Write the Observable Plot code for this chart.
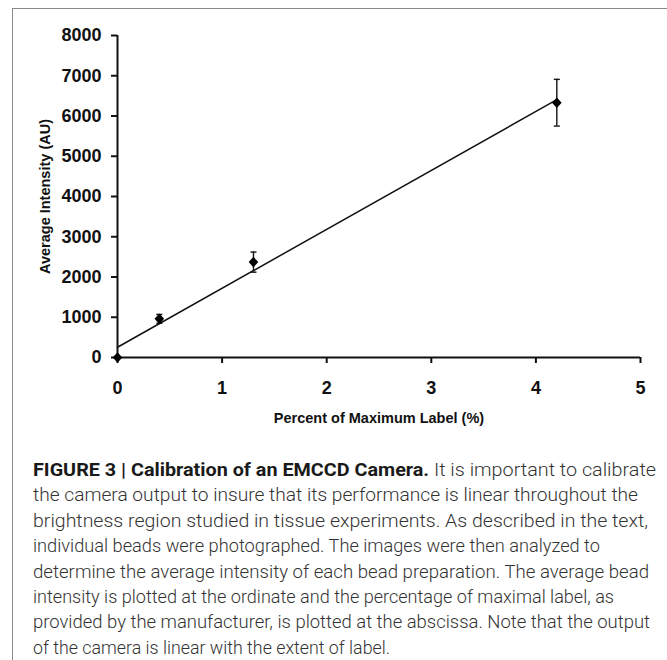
<!DOCTYPE html>
<html>
<head>
<meta charset="utf-8">
<script src="https://cdn.jsdelivr.net/npm/d3@7"></script>
<script src="https://cdn.jsdelivr.net/npm/@observablehq/plot@0.6"></script>
<style>
  html, body { margin: 0; padding: 0; background: #fff; width: 667px; height: 660px; overflow: hidden; }
  #frame { position: absolute; left: 12px; top: 8px; width: 700px; height: 700px;
           border-left: 1.5px solid #8a8a8a; border-top: 1.5px solid #8a8a8a; }
  #chart { position: absolute; left: 0; top: 0; }
  #caption { position: absolute; left: 33px; top: 457px;
             font-family: Roboto, "DejaVu Sans Condensed", "Liberation Sans", sans-serif;
             font-weight: 300; font-size: 18px; line-height: 25.4px; color: #333; white-space: nowrap; }
  #caption div { display: block; transform-origin: 0 0; width: max-content; }
  #caption b { color: #1a1a1a; font-weight: 700; }
</style>
</head>
<body>
<div id="frame"></div>
<div id="chart"></div>
<div id="caption">
<div data-w="623"><b>FIGURE 3 | Calibration of an EMCCD Camera.</b> It is important to calibrate</div>
<div data-w="605">the camera output to insure that its performance is linear throughout the</div>
<div data-w="615">brightness region studied in tissue experiments. As described in the text,</div>
<div data-w="567">individual beads were photographed. The images were then analyzed to</div>
<div data-w="616">determine the average intensity of each bead preparation. The average bead</div>
<div data-w="581">intensity is plotted at the ordinate and the percentage of maximal label, as</div>
<div data-w="617">provided by the manufacturer, is plotted at the abscissa. Note that the output</div>
<div data-w="357">of the camera is linear with the extent of label.</div>
</div>
<script>
// Data
const percentLabel = [0, 0.4, 1.3, 4.2];
const avgIntensity = [0, 960, 2370, 6330];
const errIntensity = [0, 110, 250, 580];
const xTicks = [0, 1, 2, 3, 4, 5];
const yTicks = [0, 1000, 2000, 3000, 4000, 5000, 6000, 7000, 8000];
const xTitle = "Percent of Maximum Label (%)";
const yTitle = "Average Intensity (AU)";

const data = percentLabel.map((x, i) => ({x, y: avgIntensity[i], err: errIntensity[i]}));
const errData = data.filter(d => d.err > 0);

const capSymbol = {
  draw(ctx, size) {
    const w = Math.sqrt(size / Math.PI);
    ctx.moveTo(-w, 0);
    ctx.lineTo(w, 0);
  }
};
const diamondSymbol = {
  draw(ctx, size) {
    const a = Math.sqrt(size / Math.PI);
    ctx.moveTo(0, -a * 1.1);
    ctx.lineTo(a, 0);
    ctx.lineTo(0, a * 1.1);
    ctx.lineTo(-a, 0);
    ctx.closePath();
  }
};

const chart = Plot.plot({
  width: 667,
  height: 430,
  marginLeft: 117,
  marginRight: 27,
  marginTop: 35,
  marginBottom: 73,
  style: {fontFamily: "'Liberation Sans', Arial, sans-serif", fontSize: "18px", fontWeight: "bold", color: "#111", background: "transparent"},
  x: {domain: [0, 5]},
  y: {domain: [0, 8000]},
  marks: [
    Plot.axisY({ticks: yTicks, tickSize: 6, tickPadding: 10, strokeWidth: 2, label: null, tickFormat: d => String(d)}),
    Plot.axisX({ticks: xTicks, tickSize: 6, tickPadding: 18, strokeWidth: 2, label: null, tickFormat: d => String(d)}),
    Plot.ruleX([0], {stroke: "#111", strokeWidth: 2}),
    Plot.ruleY([0], {stroke: "#111", strokeWidth: 2}),
    Plot.linearRegressionY(data, {x: "x", y: "y", ci: 0, stroke: "#111", strokeWidth: 1.5}),
    Plot.ruleX(errData, {x: "x", y1: d => d.y - d.err, y2: d => d.y + d.err, stroke: "#111", strokeWidth: 1.4}),
    Plot.dot(errData, {x: "x", y: d => d.y + d.err, symbol: capSymbol, r: 3, stroke: "#111", fill: "none", strokeWidth: 1.4}),
    Plot.dot(errData, {x: "x", y: d => d.y - d.err, symbol: capSymbol, r: 3, stroke: "#111", fill: "none", strokeWidth: 1.4}),
    Plot.dot(data, {x: "x", y: "y", symbol: diamondSymbol, r: 4.8, fill: "#000", stroke: "none"}),
    Plot.text([xTitle], {frameAnchor: "bottom", dy: 65, fontSize: 14.5, fontWeight: "bold", fill: "#111"}),
    Plot.text([yTitle], {frameAnchor: "left", textAnchor: "middle", rotate: -90, dx: -72, fontSize: 14.5, fontWeight: "bold", fill: "#111"})
  ]
});
document.getElementById("chart").appendChild(chart);

// Fit each caption line to the width it has in the reference text block
for (const line of document.querySelectorAll("#caption div")) {
  const w = line.getBoundingClientRect().width;
  const target = +line.dataset.w;
  if (w > 0 && target > 0) line.style.transform = `scaleX(${target / w})`;
}
</script>
</body>
</html>
